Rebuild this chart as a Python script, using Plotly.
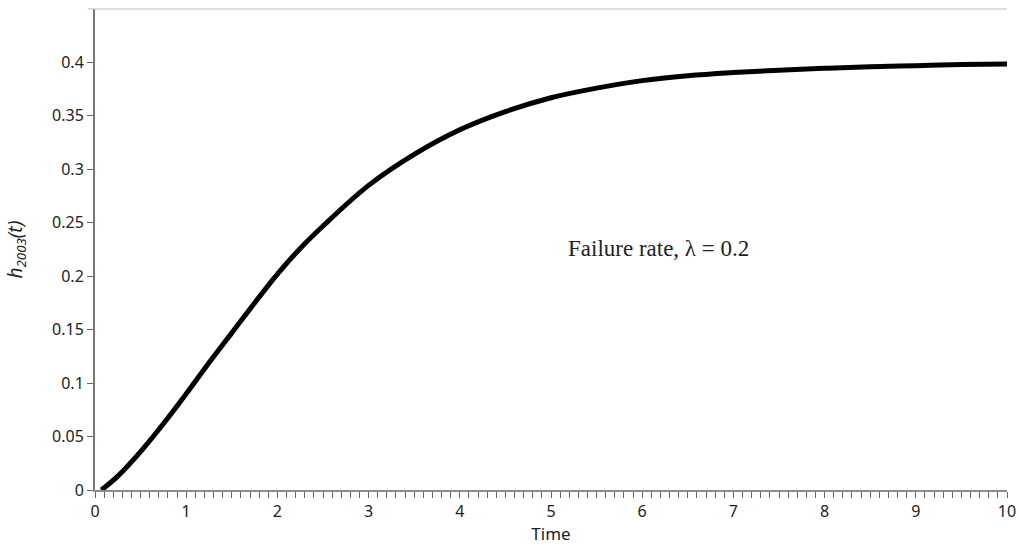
import plotly.graph_objects as go

# Data
time_vals = [0.07, 0.25, 0.5, 0.75, 1.0, 1.25, 1.5, 1.75, 2.0, 2.25, 2.5, 3.0, 3.5, 4.0,
             4.5, 5.0, 5.5, 6.0, 6.5, 7.0, 7.5, 8.0, 8.5, 9.0, 9.5, 10.0]
h_vals = [0.0, 0.013, 0.036, 0.062, 0.09, 0.119, 0.147, 0.175, 0.202, 0.226, 0.247, 0.285, 0.314, 0.337,
          0.354, 0.367, 0.376, 0.383, 0.3875, 0.3905, 0.3928, 0.3945, 0.396, 0.397, 0.398, 0.3985]

y_ticks = [0, 0.05, 0.1, 0.15, 0.2, 0.25, 0.3, 0.35, 0.4]
y_labels = ["0", "0.05", "0.1", "0.15", "0.2", "0.25", "0.3", "0.35", "0.4"]
x_ticks = list(range(0, 11))
annotation_text = "Failure rate, λ = 0.2"

fig = go.Figure()
fig.add_trace(go.Scatter(
    x=time_vals, y=h_vals, mode="lines",
    line=dict(color="black", width=5, shape="spline", smoothing=1.0),
    showlegend=False,
))

fig.add_annotation(
    x=6.18, y=0.226, xref="x", yref="y", text=annotation_text, showarrow=False,
    font=dict(family="Liberation Serif, DejaVu Serif, serif", size=23, color="#222"),
)

fig.add_shape(type="line", xref="paper", yref="paper", x0=-0.008, x1=1, y0=1, y1=1,
              line=dict(color="#bbbbbb", width=1))

fig.update_layout(
    width=1020, height=548,
    margin=dict(l=95, r=4, t=9, b=58),
    plot_bgcolor="white", paper_bgcolor="white",
    font=dict(family="Noto Sans, Open Sans, sans-serif", size=16, color="#222"),
    xaxis=dict(
        range=[0, 10.0], tickvals=x_ticks, ticktext=[str(v) for v in x_ticks],
        showgrid=False, zeroline=False,
        showline=True, linecolor="#8c8c8c", linewidth=2,
        ticks="outside", ticklen=6, tickcolor="#666", tickwidth=1,
        minor=dict(dtick=0.1, tick0=0, ticks="outside", ticklen=6, tickcolor="#666", tickwidth=1,
                   showgrid=False),
        title=dict(text="Time", font=dict(size=17), standoff=4),
        tickfont=dict(size=16),
        ticklabeloverflow="allow",
    ),
    yaxis=dict(
        range=[0, 0.45], tickvals=y_ticks, ticktext=y_labels,
        showgrid=False, zeroline=False,
        showline=True, linecolor="#777777", linewidth=2,
        ticks="outside", ticklen=6, tickcolor="#666", tickwidth=1,
        title=dict(text="<i>h</i><sub><i>2003</i></sub><i>(t)</i>", font=dict(size=19), standoff=24),
        tickfont=dict(size=16),
    ),
)

fig.write_html("out.html")
